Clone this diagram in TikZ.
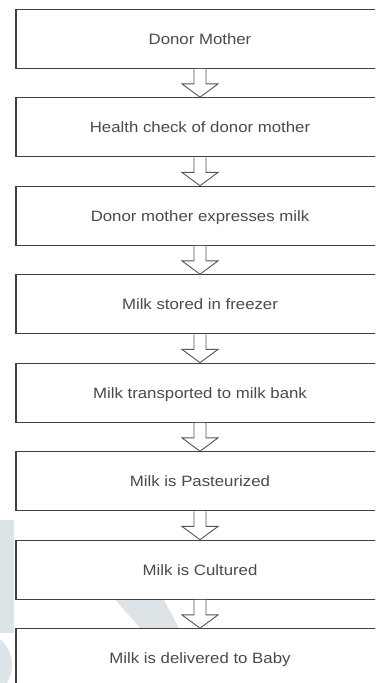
\documentclass[tikz,border=0pt]{standalone}
\usepackage{fontspec}
\setmainfont{Liberation Sans}[FakeStretch=1.12]
\usetikzlibrary{calc}
\definecolor{boxline}{HTML}{404040}
\definecolor{arrowline}{HTML}{555555}
\definecolor{txt}{HTML}{4A4A4A}
\definecolor{wm}{HTML}{DDE4E7}
\newcommand\flowarrow[2]{%
  \draw[fatarrow] ($(#1.south)+(-6,0)$) -- ($(#1.south)+(-6,-15)$) -- ($(#1.south)+(-18,-15)$)
    -- (#2.north) -- ($(#1.south)+(18,-15)$) -- ($(#1.south)+(6,-15)$) -- ($(#1.south)+(6,0)$);}
\begin{document}
\begin{tikzpicture}[x=1pt,y=1pt,
  stepbox/.style={draw=boxline, line width=1.2pt, fill=white, minimum width=368pt,
    minimum height=59pt, inner sep=0pt, font=\fontsize{15}{18}\selectfont, text=txt,
    text height=10.7pt, text depth=0pt},
  fatarrow/.style={draw=arrowline, line width=0.9pt, fill=white, line join=miter}]
\useasboundingbox (0,0) rectangle (375,-683);
\clip (0,0) rectangle (375,-683);
% faint watermark in the background
\fill[wm] (0,-520) rectangle (14,-633);
\fill[wm] (-22,-665) circle[radius=34];
\fill[wm] (112,-596) -- (162,-596) -- (180,-630) -- (142,-630) -- cycle;
% steps
\node[stepbox] (n1) at (200,-38.8)  {Donor Mother};
\node[stepbox] (n2) at (200,-127.3) {Health check of donor mother};
\node[stepbox] (n3) at (200,-215.8) {Donor mother expresses milk};
\node[stepbox] (n4) at (200,-304.3) {Milk stored in freezer};
\node[stepbox] (n5) at (200,-392.8) {Milk transported to milk bank};
\node[stepbox] (n6) at (200,-481.3) {Milk is Pasteurized};
\node[stepbox] (n7) at (200,-569.8) {Milk is Cultured};
\node[stepbox] (n8) at (200,-658.3) {Milk is delivered to Baby};
% arrows
\flowarrow{n1}{n2}
\flowarrow{n2}{n3}
\flowarrow{n3}{n4}
\flowarrow{n4}{n5}
\flowarrow{n5}{n6}
\flowarrow{n6}{n7}
\flowarrow{n7}{n8}
\end{tikzpicture}
\end{document}
